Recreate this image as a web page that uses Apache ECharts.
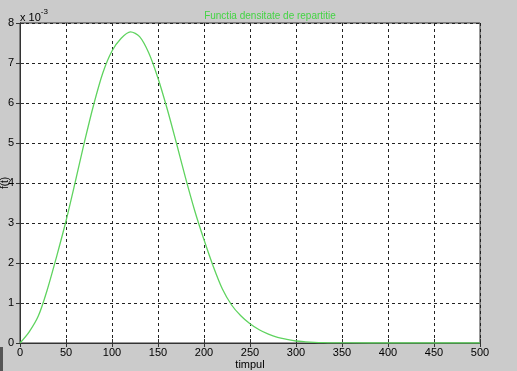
<!DOCTYPE html>
<html>
<head>
<meta charset="utf-8">
<script src="https://cdn.jsdelivr.net/npm/echarts@6/dist/echarts.min.js"></script>
<style>
html,body{margin:0;padding:0;background:#cbcbcb;}
#c{width:517px;height:371px;}
</style>
</head>
<body>
<div id="c"></div>
<script>
// time values (timpul)
var timpul = [0,10,20,30,40,50,60,70,80,90,100,110,120,130,140,150,160,170,180,190,200,210,220,230,240,250,260,270,280,290,300,310,320,330,340,360,400,450,500];
// density f(t), in units of 10^-3
var densitate = [0,0.28,0.68,1.36,2.18,3.05,4.02,5.02,5.95,6.75,7.3,7.62,7.78,7.66,7.25,6.62,5.85,5.0,4.12,3.3,2.58,1.92,1.35,0.95,0.68,0.48,0.33,0.22,0.14,0.09,0.05,0.03,0.016,0.008,0.004,0.001,0,0,0];
var xTicks = [0,50,100,150,200,250,300,350,400,450,500];
var yTicks = [0,1,2,3,4,5,6,7,8];

var chart = echarts.init(document.getElementById('c'), null, {renderer:'canvas'});
var pts = timpul.map(function(t,i){return [t, densitate[i]];});
var FF = 'Liberation Sans, Arial, sans-serif';
var labelFont = {color:'#000', fontSize:11, fontFamily:FF};
var splitDash = {show:true, lineStyle:{color:'#222', type:[3,3], width:1}};
chart.setOption({
  backgroundColor:'#cbcbcb',
  animation:false,
  title:{
    text:'Functia densitate de repartitie', left:265, top:6, textAlign:'center',
    textStyle:{color:'#44d444', fontSize:10, fontWeight:'normal', fontFamily:FF}
  },
  grid:{left:20, right:37, top:23, bottom:28, containLabel:false, outerBoundsMode:'none', show:true, backgroundColor:'#ffffff', borderColor:'#333', borderWidth:1},
  xAxis:[{
    type:'value', min:xTicks[0], max:xTicks[xTicks.length-1], interval:50,
    axisLine:{show:true, onZero:false, lineStyle:{color:'#333'}},
    axisTick:{show:true, inside:true, length:4, lineStyle:{color:'#333'}},
    axisLabel:Object.assign({margin:4}, labelFont),
    splitLine:splitDash
  },{
    type:'value', position:'top', min:0, max:500, interval:50,
    axisLine:{show:true, lineStyle:{color:'#333'}},
    axisTick:{show:true, inside:true, length:4, lineStyle:{color:'#333'}},
    axisLabel:{show:false}, splitLine:{show:false}
  }],
  yAxis:[{
    type:'value', min:yTicks[0], max:yTicks[yTicks.length-1], interval:1,
    axisLine:{show:true, onZero:false, lineStyle:{color:'#333'}},
    axisTick:{show:true, inside:true, length:4, lineStyle:{color:'#333'}},
    axisLabel:Object.assign({margin:6}, labelFont),
    splitLine:splitDash
  },{
    type:'value', position:'right', min:0, max:8, interval:1,
    axisLine:{show:true, lineStyle:{color:'#333'}},
    axisTick:{show:true, inside:true, length:4, lineStyle:{color:'#333'}},
    axisLabel:{show:false}, splitLine:{show:false}
  }],
  graphic:[{
    type:'text', left:20, top:8,
    style:{
      text:'{a|x 10}{b|-3}',
      rich:{
        a:{fontSize:11, fill:'#000', fontFamily:FF, padding:[4,0,0,0]},
        b:{fontSize:8, fill:'#000', fontFamily:FF, verticalAlign:'top', padding:[0,0,6,0]}
      }
    }
  },{
    type:'text', x:250, y:365,
    style:{text:'timpul', fill:'#000', fontSize:11, fontFamily:FF, align:'center', verticalAlign:'middle'}
  },{
    type:'text', x:5, y:183, rotation:Math.PI/2,
    style:{text:'f(t)', fill:'#000', fontSize:10, fontFamily:FF, align:'center', verticalAlign:'middle'}
  },{
    type:'rect', left:0, top:347, shape:{width:3, height:24}, style:{fill:'#555'}
  }],
  series:[{
    type:'line', data:pts, smooth:0.3, showSymbol:false, symbol:'none',
    lineStyle:{color:'#5fd35f', width:1.3}, clip:true
  }]
});
</script>
</body>
</html>
